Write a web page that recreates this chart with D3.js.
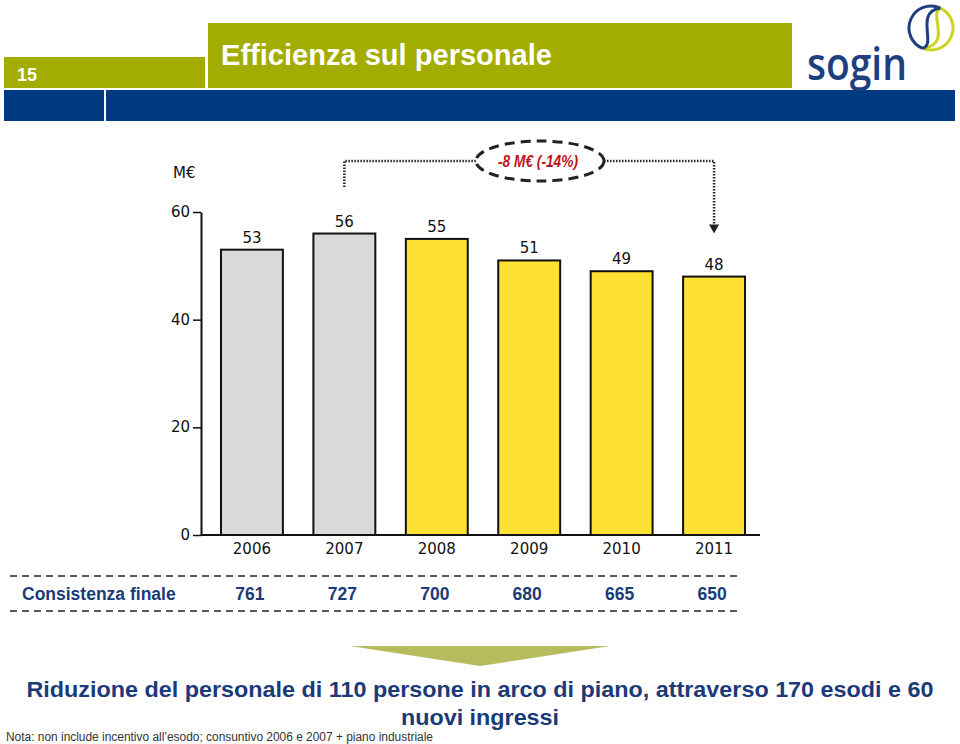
<!DOCTYPE html>
<html><head><meta charset="utf-8">
<script src="https://cdn.jsdelivr.net/npm/d3@7"></script>
<style>html,body{margin:0;padding:0;background:#fff}svg{display:block}</style>
</head><body>
<script>
const years = ["2006","2007","2008","2009","2010","2011"];
const costs = [53,56,55,51,49,48];
const kinds = ["consuntivo","consuntivo","piano","piano","piano","piano"];
const staff = [761,727,700,680,665,650];
const yTicks = [0,20,40,60];
const rowLabel = "Consistenza finale";
const deltaLabel = "-8 M€  (-14%)";
const unitLabel = "M€";
const title = "Efficienza sul personale";
const pageNum = "15";
const conclusion = ["Riduzione del personale di 110 persone in arco di piano, attraverso 170 esodi e 60","nuovi ingressi"];
const note = "Nota:  non include incentivo all’esodo; consuntivo 2006 e 2007 + piano industriale";

const W=960,H=744;
const green="#a3ac00", blue="#003a80", navy="#1b3a78";
const svg=d3.select("body").append("svg").attr("width",W).attr("height",H);

// header
svg.append("rect").attr("x",4).attr("y",57).attr("width",201).attr("height",31).attr("fill",green);
svg.append("rect").attr("x",208).attr("y",23).attr("width",584).attr("height",65).attr("fill",green);
svg.append("rect").attr("x",4).attr("y",90).attr("width",100).attr("height",31).attr("fill",blue);
svg.append("rect").attr("x",106).attr("y",90).attr("width",849).attr("height",31).attr("fill",blue);
svg.append("text").attr("x",17).attr("y",81).attr("fill","#fff").attr("font-family","Liberation Sans, Arial").attr("font-weight","bold").attr("font-size",18).text(pageNum);
svg.append("text").attr("x",221).attr("y",65).attr("fill","#fff").attr("font-family","Liberation Sans, Arial").attr("font-weight","bold").attr("font-size",29).attr("textLength",331).attr("lengthAdjust","spacingAndGlyphs").text(title);

// logo
const lg=svg.append("g");
lg.append("text").attr("x",807).attr("y",80).attr("fill","#1d3f7d").attr("font-family","Open Sans, DejaVu Sans").attr("font-size",46).attr("font-weight","600").attr("textLength",100).attr("lengthAdjust","spacingAndGlyphs").text("sogin");
const cx=931, cy=28, r=22;
const pt=a=>[cx+r*Math.cos(a*Math.PI/180), cy+r*Math.sin(a*Math.PI/180)];
const A=pt(-65), B=pt(112);
lg.append("path").attr("d",`M${A} A${r},${r} 0 0 1 ${B}`).attr("fill","none").attr("stroke","#c8d41e").attr("stroke-width",3);
lg.append("path").attr("d",`M${B} C ${B[0]+30},${B[1]-4} ${A[0]-12},${A[1]+6} ${A}`).attr("fill","none").attr("stroke","#c8d41e").attr("stroke-width",3);
lg.append("path").attr("d",`M${A} A${r},${r} 0 1 0 ${B}`).attr("fill","none").attr("stroke","#1d3f7d").attr("stroke-width",3);
lg.append("path").attr("d",`M${B} C ${B[0]+14},${B[1]-4} ${A[0]-26},${A[1]+4} ${A}`).attr("fill","none").attr("stroke","#1d3f7d").attr("stroke-width",3);

// chart
const x=d3.scaleBand().domain(years).range([206,760]).paddingInner(0.33).paddingOuter(0.162);
const y=d3.scaleLinear().domain([0,60]).range([535,212]);
const fill={consuntivo:"#d9d9d9",piano:"#ffe135"};

svg.selectAll("rect.bar").data(years).join("rect").attr("class","bar")
  .attr("x",d=>x(d)).attr("width",x.bandwidth())
  .attr("y",(d,i)=>y(costs[i])).attr("height",(d,i)=>y(0)-y(costs[i]))
  .attr("fill",(d,i)=>fill[kinds[i]]).attr("stroke","#111").attr("stroke-width",2);

const ax=svg.append("g").attr("transform","translate(201,0)")
  .call(d3.axisLeft(y).tickValues(yTicks).tickSize(8).tickSizeOuter(0).tickPadding(3));
ax.select(".domain").attr("stroke","#111").attr("stroke-width",2);
ax.selectAll(".tick line").attr("stroke","#111").attr("stroke-width",1.5);
ax.selectAll(".tick text").attr("font-family","DejaVu Sans, Verdana").attr("font-size",15).attr("fill","#111").attr("dy","0.3em");

svg.append("line").attr("x1",201).attr("x2",760).attr("y1",y(0)).attr("y2",y(0)).attr("stroke","#111").attr("stroke-width",2);

svg.selectAll("text.val").data(years).join("text").attr("class","val")
  .attr("x",d=>x(d)+x.bandwidth()/2).attr("y",(d,i)=>y(costs[i])-7)
  .attr("text-anchor","middle").attr("font-family","DejaVu Sans, Verdana").attr("font-size",15).attr("fill","#111")
  .text((d,i)=>costs[i]);

svg.selectAll("text.yr").data(years).join("text").attr("class","yr")
  .attr("x",d=>x(d)+x.bandwidth()/2).attr("y",554)
  .attr("text-anchor","middle").attr("font-family","DejaVu Sans, Verdana").attr("font-size",15).attr("fill","#111")
  .text(d=>d);

svg.append("text").attr("x",173).attr("y",178).attr("font-family","DejaVu Sans, Verdana").attr("font-size",15).attr("fill","#111").text(unitLabel);

// annotation
const xa=x(years[1])+x.bandwidth()/2, xb=x(years[5])+x.bandwidth()/2;
const ay=161, ecx=540, erx=64, ery=20;
svg.append("path").attr("d",`M${xa},187 V${ay} H${ecx-erx}`).attr("fill","none").attr("stroke","#222").attr("stroke-width",2.5).attr("stroke-dasharray","1.5 1.5");
svg.append("path").attr("d",`M${ecx+erx},${ay} H${xb} V${y(costs[5])-52}`).attr("fill","none").attr("stroke","#222").attr("stroke-width",2.5).attr("stroke-dasharray","1.5 1.5");
svg.append("path").attr("d",`M${xb-5},${y(costs[5])-52} L${xb+5},${y(costs[5])-52} L${xb},${y(costs[5])-43} Z`).attr("fill","#222");
svg.append("ellipse").attr("cx",ecx).attr("cy",ay).attr("rx",erx).attr("ry",ery).attr("fill","#fff").attr("stroke","#222").attr("stroke-width",3).attr("stroke-dasharray","10 6");
svg.append("text").attr("x",538).attr("y",167).attr("text-anchor","middle").attr("fill","#c0141c").attr("font-family","Liberation Sans, Arial").attr("font-style","italic").attr("font-weight","bold").attr("font-size",16).attr("textLength",80).attr("lengthAdjust","spacingAndGlyphs").text(deltaLabel);

// table
[576,611].forEach(yy=>svg.append("line").attr("x1",10).attr("x2",742).attr("y1",yy).attr("y2",yy).attr("stroke","#222").attr("stroke-width",1.5).attr("stroke-dasharray","7 5"));
svg.append("text").attr("x",22).attr("y",600).attr("fill",navy).attr("font-family","Liberation Sans, Arial").attr("font-weight","bold").attr("font-size",17.5).text(rowLabel);
svg.selectAll("text.st").data(years).join("text").attr("class","st")
  .attr("x",d=>x(d)+x.bandwidth()/2-2).attr("y",600).attr("text-anchor","middle")
  .attr("fill",navy).attr("font-family","Liberation Sans, Arial").attr("font-weight","bold").attr("font-size",17.5)
  .text((d,i)=>staff[i]);

// arrow triangle
svg.append("path").attr("d","M350,646 L610,646 L480,666 Z").attr("fill","#b6bb5e");

// conclusion
svg.append("text").attr("x",480).attr("y",697).attr("text-anchor","middle").attr("fill",navy).attr("font-family","Liberation Sans, Arial").attr("font-weight","bold").attr("font-size",22).attr("textLength",907).attr("lengthAdjust","spacingAndGlyphs").text(conclusion[0]);
svg.append("text").attr("x",480).attr("y",725).attr("text-anchor","middle").attr("fill",navy).attr("font-family","Liberation Sans, Arial").attr("font-weight","bold").attr("font-size",22).attr("textLength",158).attr("lengthAdjust","spacingAndGlyphs").text(conclusion[1]);
svg.append("text").attr("x",6).attr("y",741).attr("fill","#333").attr("font-family","Liberation Sans, Arial").attr("font-size",12.5).attr("textLength",427).attr("lengthAdjust","spacingAndGlyphs").text(note);
</script>
</body></html>
